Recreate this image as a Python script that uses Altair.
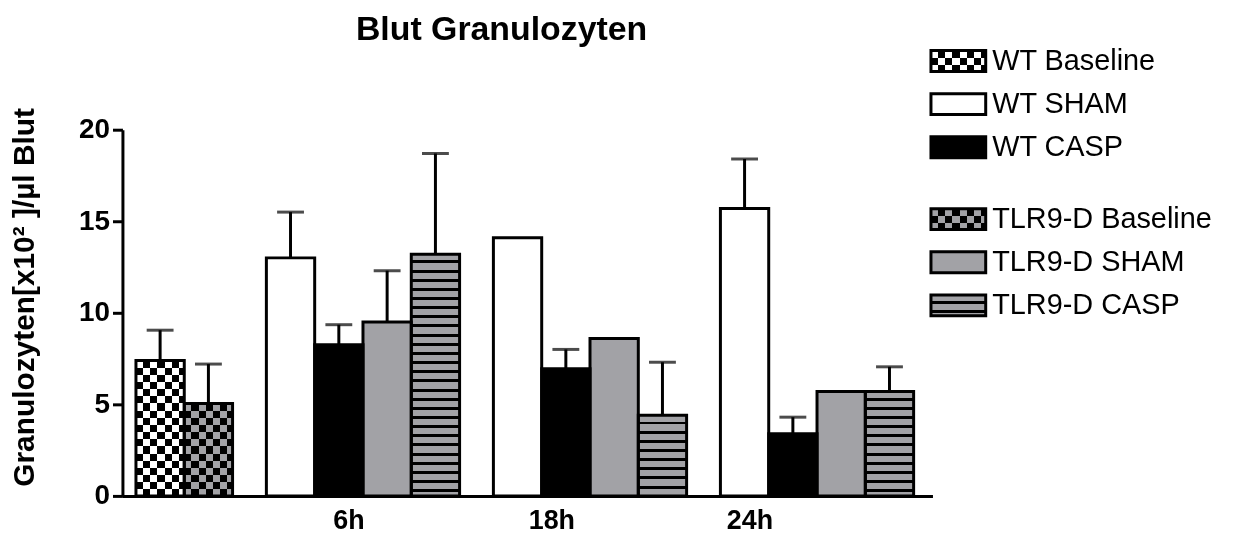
import altair as alt
import pandas as pd

# ---------------- data ----------------
chart_title = "Blut Granulozyten"
y_axis_title = "Granulozyten[x10² ]/µl Blut"

series_names = ["WT Baseline", "WT SHAM", "WT CASP",
                "TLR9-D Baseline", "TLR9-D SHAM", "TLR9-D CASP"]

bar_groups = ["Baseline", "Baseline",
              "6h", "6h", "6h", "6h",
              "18h", "18h", "18h", "18h",
              "24h", "24h", "24h", "24h"]
bar_series = ["WT Baseline", "TLR9-D Baseline",
              "WT SHAM", "WT CASP", "TLR9-D SHAM", "TLR9-D CASP",
              "WT SHAM", "WT CASP", "TLR9-D SHAM", "TLR9-D CASP",
              "WT SHAM", "WT CASP", "TLR9-D SHAM", "TLR9-D CASP"]
bar_means = [7.4, 5.05,
             13.0, 8.25, 9.5, 13.2,
             14.1, 6.95, 8.6, 4.4,
             15.7, 3.4, 5.7, 5.7]
bar_errors = [1.65, 2.15,
              2.5, 1.1, 2.8, 5.5,
              None, 1.05, None, 2.9,
              2.7, 0.9, None, 1.35]

x_tick_labels = ["6h", "18h", "24h"]
x_tick_positions = [4.4, 8.6, 12.7]
y_ticks = [0, 5, 10, 15, 20]

# ---------------- layout / style ----------------
FONT = "Liberation Sans"
PLOT_W, PLOT_H = 814, 368
Y_MAX = 20
GROUP_GAP = 0.7
X_LEFT_PAD, X_RIGHT_PAD = 0.28, 0.39
BLACK, WHITE, GRAY = "#000000", "#ffffff", "#a2a2a6"
CELL = 7.2
STRIPE_FILL, STRIPE_LINE = 6.2, 3.0
STROKE_W = 3

slots = []
cursor, prev = 0.0, None
for g in bar_groups:
    if prev is not None and g != prev:
        cursor += GROUP_GAP
    slots.append(cursor)
    cursor += 1
    prev = g
x_domain = [-X_LEFT_PAD, cursor + X_RIGHT_PAD]
px_per_x = PLOT_W / (x_domain[1] - x_domain[0])
px_per_y = PLOT_H / Y_MAX

df = pd.DataFrame({
    "group": bar_groups, "series": bar_series,
    "mean": bar_means, "err": bar_errors, "x0": slots,
})
df["x1"] = df["x0"] + 1
df["xc"] = df["x0"] + 0.5
df["id"] = range(len(df))

x_scale = alt.Scale(domain=x_domain, nice=False, zero=False)
y_scale = alt.Scale(domain=[0, Y_MAX], nice=False)

label_expr = " : ".join(
    f"datum.value == {p} ? '{t}'" for p, t in zip(x_tick_positions, x_tick_labels)
) + " : ''"

x_axis = alt.Axis(values=x_tick_positions, labelExpr=label_expr, ticks=False,
                  grid=False, title=None, domainColor=BLACK, domainWidth=3,
                  labelFont=FONT, labelFontSize=27, labelFontWeight="bold",
                  labelColor=BLACK, labelPadding=12, labelFlush=False)
y_axis = alt.Axis(values=y_ticks, grid=False, tickSize=10, tickWidth=3,
                  tickColor=BLACK, domainColor=BLACK, domainWidth=3,
                  labelFont=FONT, labelFontSize=28, labelFontWeight="bold",
                  labelColor=BLACK, labelPadding=3,
                  title=y_axis_title, titleFont=FONT, titleFontSize=30,
                  titleFontWeight="bold", titleColor=BLACK,
                  titleAngle=270, titleAlign="center", titleBaseline="bottom",
                  titleX=-83, titleY=168)


def ex(field):
    return alt.X(f"{field}:Q", scale=x_scale, axis=x_axis)


def ey(field):
    return alt.Y(f"{field}:Q", scale=y_scale, axis=y_axis)


def band_gradient(colors, widths, length_px, direction):
    stops = []
    pos, i = 0.0, 0
    while pos < length_px - 1e-6:
        c = colors[i % len(colors)]
        w = widths[i % len(widths)]
        end = min(pos + w, length_px)
        stops.append({"offset": round(pos / length_px, 5), "color": c})
        stops.append({"offset": round(end / length_px, 5), "color": c})
        pos, i = end, i + 1
    if direction == "y":
        x1, y1, x2, y2 = 0, 0, 0, 1
    else:
        x1, y1, x2, y2 = 0, 0, 1, 0
    return {"gradient": "linear", "x1": x1, "y1": y1, "x2": x2, "y2": y2,
            "stops": stops}


checker_light = {"WT Baseline": WHITE, "TLR9-D Baseline": GRAY}
solid_fill = {"WT Baseline": WHITE, "WT SHAM": WHITE, "WT CASP": BLACK,
              "TLR9-D Baseline": GRAY, "TLR9-D SHAM": GRAY, "TLR9-D CASP": GRAY}


def pattern_layers(chart, series, w_px, h_px, enc):
    """Return layers painting the pattern of `series` into a rect of w_px x h_px."""
    out = []
    if series in checker_light:
        light = checker_light[series]
        out.append(chart.mark_rect().encode(
            fill=alt.value(band_gradient([light, BLACK], [CELL, CELL], h_px, "y")), **enc))
        out.append(chart.mark_rect(blend="difference").encode(
            fill=alt.value(band_gradient([BLACK, light], [CELL, CELL], w_px, "x")), **enc))
    elif series == "TLR9-D CASP":
        out.append(chart.mark_rect().encode(
            fill=alt.value(band_gradient([GRAY, BLACK], [STRIPE_FILL, STRIPE_LINE], h_px, "y")),
            **enc))
    return out


base = alt.Chart(df)
bar_enc = dict(x=ex("x0"), x2=alt.X2("x1"), y=ey("mean"), y2=alt.datum(0))

layers = []
# solid base fill for every bar
layers.append(base.mark_rect().encode(
    fill=alt.Fill("series:N", scale=alt.Scale(domain=series_names,
                                              range=[solid_fill[s] for s in series_names]),
                  legend=None),
    **bar_enc))
# patterns, bar by bar
for _, row in df.iterrows():
    one = base.transform_filter(alt.datum.id == int(row["id"]))
    layers += pattern_layers(one, row["series"], px_per_x, row["mean"] * px_per_y, bar_enc)
# outlines
layers.append(base.mark_rect(fillOpacity=0, stroke=BLACK, strokeWidth=STROKE_W).encode(**bar_enc))

# error bars (upper only)
err = base.transform_filter("isValid(datum.err)").transform_calculate(
    top="datum.mean + datum.err")
layers.append(err.mark_rule(color=BLACK, strokeWidth=3).encode(
    x=ex("xc"), y=ey("mean"), y2=alt.Y2("top")))
layers.append(err.mark_tick(color=BLACK, orient="horizontal", size=27, thickness=3).encode(
    x=ex("xc"), y=ey("top")))

# ---------------- chart title ----------------
layers.append(alt.Chart(pd.DataFrame({"t": [chart_title]})).mark_text(
    align="center", baseline="alphabetic", font=FONT, fontSize=34,
    fontWeight="bold", color=BLACK).encode(
    x=alt.value(381), y=alt.value(-90), text="t:N"))

# ---------------- legend ----------------
LEG_X0, LEG_X1 = 812.5, 867.5
LEG_TEXT_X = 874
LEG_Y0, LEG_STEP, LEG_GAP = -69, 43.3, 29
SW_H = 21
for k, name in enumerate(series_names):
    yc = LEG_Y0 + k * LEG_STEP + (LEG_GAP if k >= 3 else 0)
    ldat = alt.Chart(pd.DataFrame({"label": [name]}))
    enc = dict(x=alt.value(LEG_X0), x2=alt.value(LEG_X1),
               y=alt.value(yc - SW_H / 2), y2=alt.value(yc + SW_H / 2))
    layers.append(ldat.mark_rect().encode(fill=alt.value(solid_fill[name]), **enc))
    layers += pattern_layers(ldat, name, LEG_X1 - LEG_X0, SW_H, enc)
    layers.append(ldat.mark_rect(fillOpacity=0, stroke=BLACK, strokeWidth=STROKE_W).encode(**enc))
    layers.append(ldat.mark_text(align="left", baseline="middle", font=FONT,
                                 fontSize=29, color=BLACK).encode(
        x=alt.value(LEG_TEXT_X), y=alt.value(yc), text="label:N"))

chart = alt.layer(*layers).properties(
    width=PLOT_W, height=PLOT_H,
    autosize=alt.AutoSizeParams(type="none"),
    padding={"left": 115, "top": 121, "right": 300, "bottom": 40},
    background="white",
).configure(font=FONT, view=alt.ViewConfig(stroke="transparent", strokeWidth=0))

chart.save("out.html", embed_options={"renderer": "svg", "actions": False})
